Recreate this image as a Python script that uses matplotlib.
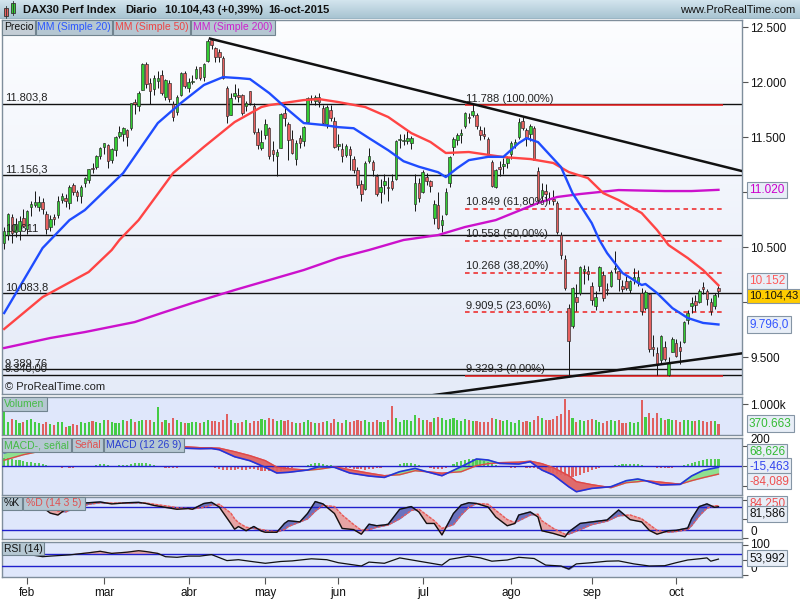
import numpy as np
import pandas as pd
import matplotlib
matplotlib.use("Agg")
import matplotlib.pyplot as plt
from matplotlib.colors import LinearSegmentedColormap
from matplotlib.patches import Rectangle

plt.rcParams["font.family"] = ["Liberation Sans", "DejaVu Sans"]

# ---------------- data ----------------
dates = pd.bdate_range("2015-01-23", "2015-10-16")
dates = dates.drop(pd.to_datetime(["2015-04-03", "2015-04-06", "2015-05-01", "2015-05-25"]))
month_labels = ["feb", "mar", "abr", "may", "jun", "jul", "ago", "sep", "oct"]

opens = [
    10540, 10610, 10770, 10640, 10650, 10760, 10660, 10860, 10880, 10860,
    10910, 10800, 10680, 10770, 10790, 10930, 10950, 10900, 11060, 11000,
    10960, 11080, 11110, 11220, 11230, 11330, 11410, 11430, 11290, 11380,
    11510, 11530, 11560, 11580, 11820, 11780, 11930, 12160, 11990, 11940,
    12010, 12060, 11860, 11990, 11800, 11730, 11880, 12080, 11950, 12000,
    12040, 12140, 12050, 12190, 12380, 12310, 12270, 12220, 11950, 11700,
    11870, 11880, 11880, 11780, 11920, 11780, 11550, 11400, 11520, 11580,
    11380, 11330, 11400, 11720, 11620, 11480, 11300, 11490, 11460, 11640,
    11850, 11830, 11860, 11760, 11620, 11750, 11650, 11420, 11390, 11340,
    11390, 11300, 11200, 11070, 11030, 11280, 11270, 11150, 11000, 11060,
    11050, 11100, 11120, 11470, 11460, 11460, 11450, 10890, 11080, 11000,
    11140, 11100, 10760, 10880, 10700, 10800, 11080, 11410, 11470, 11520,
    11600, 11680, 11700, 11700, 11560, 11530, 11480, 11270, 11050, 11230,
    11240, 11260, 11350, 11430, 11500, 11650, 11560, 11530, 11580, 11190,
    10960, 11010, 10950, 10940, 10900, 10610, 10390, 9950, 9780, 10050,
    10080, 10280, 10280, 10150, 9960, 10150, 10250, 10120, 10150, 10300,
    10280, 10150, 10190, 10110, 10200, 10170, 10080, 9950, 10070, 9590,
    9540, 9470, 9590, 9340, 9550, 9630, 9590, 9640, 9840, 9960,
    10010, 10000, 10140, 10100, 10000, 9960, 10130,
]
highs = [
    10680, 10810, 10800, 10760, 10780, 10850, 10840, 10920, 11010, 10960,
    10950, 10830, 10790, 10800, 10960, 10990, 10980, 11060, 11080, 11020,
    11060, 11140, 11210, 11260, 11340, 11410, 11450, 11440, 11400, 11510,
    11600, 11590, 11570, 11810, 11850, 11920, 12170, 12180, 12040, 12060,
    12100, 12110, 12030, 12020, 11830, 11880, 12090, 12100, 12040, 12060,
    12150, 12140, 12170, 12390, 12390, 12320, 12300, 12240, 11960, 11900,
    11980, 11950, 11890, 11830, 11920, 11810, 11580, 11560, 11660, 11590,
    11460, 11390, 11720, 11760, 11640, 11560, 11470, 11520, 11600, 11860,
    11880, 11880, 11900, 11790, 11790, 11790, 11680, 11530, 11450, 11440,
    11420, 11330, 11230, 11110, 11280, 11400, 11290, 11160, 11120, 11160,
    11140, 11160, 11470, 11530, 11530, 11560, 11510, 11160, 11130, 11200,
    11170, 11110, 10930, 11000, 10790, 11040, 11330, 11500, 11540, 11570,
    11730, 11720, 11800, 11720, 11600, 11590, 11500, 11290, 11210, 11280,
    11310, 11330, 11460, 11480, 11670, 11680, 11580, 11620, 11600, 11230,
    11080, 11070, 11000, 11020, 10920, 10640, 10430, 9980, 10140, 10160,
    10330, 10340, 10330, 10180, 10100, 10330, 10280, 10170, 10290, 10460,
    10290, 10200, 10240, 10200, 10310, 10290, 10130, 10110, 10080, 9700,
    9590, 9700, 9650, 9500, 9680, 9660, 9650, 9830, 9930, 10050,
    10060, 10120, 10180, 10120, 10040, 10080, 10160,
]
lows = [
    10480, 10560, 10540, 10590, 10560, 10680, 10620, 10780, 10860, 10830,
    10800, 10620, 10650, 10700, 10760, 10900, 10860, 10850, 10970, 10920,
    10900, 11050, 11080, 11170, 11210, 11300, 11350, 11220, 11260, 11330,
    11490, 11460, 11420, 11560, 11710, 11740, 11930, 11950, 11800, 11880,
    11950, 11880, 11840, 11820, 11650, 11700, 11870, 11950, 11910, 11980,
    12030, 12020, 12010, 12180, 12300, 12180, 12180, 12030, 11630, 11700,
    11850, 11820, 11700, 11740, 11790, 11530, 11390, 11380, 11480, 11300,
    11280, 11150, 11400, 11600, 11290, 11350, 11250, 11400, 11420, 11630,
    11810, 11790, 11770, 11610, 11580, 11650, 11400, 11380, 11270, 11320,
    11200, 11170, 11040, 10920, 11020, 11260, 11150, 10960, 10900, 10980,
    10920, 11020, 11110, 11400, 11430, 11440, 11390, 10830, 10910, 10990,
    11060, 11000, 10710, 10660, 10640, 10790, 11050, 11340, 11430, 11450,
    11580, 11630, 11680, 11570, 11470, 11480, 11340, 11050, 11040, 11150,
    11160, 11220, 11300, 11400, 11480, 11560, 11420, 11460, 11290, 10900,
    10910, 10930, 10890, 10880, 10620, 10390, 10110, 9338, 9760, 9920,
    10060, 10160, 10200, 9970, 9930, 10100, 10010, 10060, 10140, 10260,
    10100, 10090, 10110, 10080, 10160, 10150, 9880, 9930, 9550, 9510,
    9340, 9450, 9460, 9330, 9550, 9500, 9440, 9630, 9800, 9900,
    9920, 9990, 10070, 9970, 9880, 9940, 10050,
]
closes = [
    10649, 10798, 10628, 10710, 10738, 10694, 10828, 10891, 10911, 10905,
    10846, 10663, 10752, 10752, 10920, 10963, 10923, 11050, 11001, 10961,
    11050, 11130, 11205, 11210, 11327, 11401, 11443, 11280, 11390, 11504,
    11550, 11582, 11500, 11805, 11799, 11901, 12167, 11980, 11922, 12036,
    12039, 11896, 12016, 11843, 11683, 11868, 12086, 11967, 11998, 12001,
    12123, 12036, 12166, 12375, 12339, 12228, 12232, 12039, 11689, 11851,
    11896, 11863, 11722, 11811, 11811, 11547, 11432, 11454, 11622, 11327,
    11350, 11367, 11709, 11673, 11472, 11351, 11450, 11447, 11593, 11853,
    11848, 11864, 11815, 11625, 11771, 11673, 11413, 11436, 11328, 11420,
    11340, 11197, 11065, 10985, 11265, 11332, 11197, 10985, 11045, 11100,
    11041, 11040, 11460, 11471, 11472, 11492, 11492, 11083, 10945, 11180,
    11099, 11058, 10890, 10676, 10747, 10997, 11316, 11485, 11517, 11540,
    11716, 11673, 11735, 11604, 11520, 11512, 11347, 11056, 11198, 11211,
    11257, 11308, 11443, 11456, 11636, 11585, 11490, 11604, 11293, 10925,
    11014, 10985, 10940, 10915, 10636, 10432, 10124, 9648, 10128, 9998,
    10315, 10298, 10259, 10016, 10048, 10318, 10038, 10108, 10271, 10303,
    10210, 10123, 10131, 10188, 10227, 10229, 9916, 10093, 9571, 9570,
    9428, 9688, 9483, 9450, 9660, 9509, 9553, 9815, 9902, 9994,
    9970, 10096, 10119, 10032, 9915, 10064, 10104.43,
]
volumes = [  # thousands
    752, 430, 516, 484, 400, 408, 484, 516, 408, 376,
    344, 408, 344, 322, 430, 408, 269, 301, 344, 322,
    408, 376, 430, 450, 420, 400, 500, 470, 430, 380,
    400, 470, 440, 520, 430, 460, 500, 470, 480, 420,
    914, 430, 470, 400, 560, 470, 420, 380, 390, 430,
    410, 380, 430, 470, 440, 450, 430, 470, 680, 470,
    400, 380, 420, 470, 400, 460, 440, 520, 470, 550,
    520, 460, 480, 440, 470, 430, 400, 380, 420, 470,
    410, 380, 400, 420, 440, 400, 520, 430, 400, 470,
    420, 440, 470, 460, 480, 420, 410, 470, 430, 420,
    470, 935, 540, 430, 470, 500, 460, 645, 560, 470,
    480, 430, 540, 590, 560, 470, 520, 560, 480, 450,
    510, 480, 460, 440, 430, 410, 420, 560, 530, 480,
    450, 470, 420, 400, 490, 430, 460, 420, 470, 600,
    540, 500, 470, 520, 600, 677, 1150, 806, 560, 430,
    480, 460, 480, 520, 470, 420, 400, 440, 480, 450,
    480, 400, 380, 420, 400, 420, 1130, 591, 700, 560,
    700, 560, 480, 520, 470, 480, 420, 480, 470, 440,
    460, 470, 450, 420, 440, 450, 370.663,
]

# moving averages (bar index, value)
ma20_idx = [0, 2, 10, 17, 21, 31, 40, 46, 52, 57, 61, 64, 69, 74, 78, 83, 87, 91, 95, 100,
            104, 108, 113, 115, 118, 121, 126, 130, 134, 136, 139, 145, 148, 153, 155, 157,
            161, 166, 167, 170, 174, 178, 182, 186]
ma20_val = [9900, 10018, 10491, 10745, 10836, 11173, 11627, 11809, 11973, 12045, 12036, 12027,
            11900, 11745, 11627, 11610, 11590, 11580, 11490, 11380, 11280, 11230, 11180, 11136,
            11218, 11290, 11320, 11320, 11445, 11490, 11454, 11227, 10990, 10718, 10563, 10445,
            10264, 10155, 10164, 10082, 9945, 9855, 9810, 9796]
ma50_idx = [0, 10, 22, 28, 30, 35, 44, 52, 60, 67, 69, 78, 82, 87, 94, 100, 106, 111, 115,
            121, 130, 137, 143, 147, 152, 156, 160, 166, 170, 173, 178, 182, 186]
ma50_val = [9755, 10045, 10273, 10473, 10564, 10745, 11173, 11410, 11636, 11773, 11790, 11836,
            11845, 11818, 11773, 11682, 11536, 11455, 11355, 11364, 11318, 11300, 11264, 11182,
            11127, 10990, 10927, 10809, 10655, 10518, 10400, 10291, 10152]
ma200_idx = [0, 12, 21, 34, 41, 49, 60, 69, 78, 87, 95, 104, 113, 120, 128, 139, 144, 150,
             160, 172, 179, 186]
ma200_val = [9582, 9673, 9727, 9818, 9900, 9991, 10109, 10200, 10291, 10400, 10473, 10564,
             10609, 10682, 10745, 10900, 10955, 10982, 11018, 11009, 11009, 11020]

# drawn support / resistance levels
levels = [11803.8, 11156.3, 10611, 10083.8, 9389.76, 9340]
level_labels = ["11.803,8", "11.156,3", "10.611", "10.083,8", "9.389,76", "9.340,00"]
fib_vals = [11788, 10849, 10558, 10268, 9909.5, 9329.3]
fib_labels = ["11.788 (100,00%)", "10.849 (61,80%)", "10.558 (50,00%)",
              "10.268 (38,20%)", "9.909,5 (23,60%)", "9.329,3 (0,00%)"]
fib_span = [120, 187.2]
trend_down_x, trend_down_y = [53.6, 192.2], [12395, 11190]
trend_up_x, trend_up_y = [110.9, 192.2], [9150, 9534]

# MACD (12 26 9)
macd_idx = [0, 5, 10, 15, 20, 25, 30, 35, 40, 44, 47, 51, 54, 56, 60, 64, 68, 71, 74, 79, 82,
            86, 90, 95, 99, 103, 107, 110, 114, 119, 123, 126, 129, 134, 137, 140, 143, 147,
            149, 153, 158, 162, 165, 167, 171, 176, 179, 182, 186]
macd_val = [130, 160, 170, 170, 175, 195, 205, 220, 215, 190, 175, 170, 172, 160, 90, 50, -16,
            -73, -66, -43, -10, -16, -73, -103, -117, -60, -27, -60, -100, -10, 67, 57, 23, 17,
            40, -43, -93, -210, -260, -227, -210, -150, -133, -150, -193, -187, -103, -47,
            -15.463]
signal_val = [55, 110, 150, 180, 185, 180, 200, 195, 225, 212, 190, 180, 178, 175, 140, 100,
              50, -15, -30, -45, -35, -12, -40, -75, -100, -90, -50, -60, -75, -60, 0, 20, 30,
              35, 45, 20, -20, -100, -160, -190, -220, -170, -160, -150, -165, -185, -150,
              -120, -84.089]
macd_hist = [
    80, 75, 65, 60, 55, 45, 40, 35, 30, 25, 20, 5,
    -10, -15, -15, -20, -15, -20, -20, -15, -10, -10, -5,
    0, 5, 15, 15, 5, 0,
    0, 5, 5, 10,
    20, 25, 30, 28, 25, 20, 10,
    -10, -15, -20, -25, -20, -20, -15, -10,
    -5, -5, 0, -5, -10, -10, -10,
    -20, -30, -40, -40, -45, -40, -35, -40, -40, -35, -30,
    -40, -50, -55, -55, -50, -60, -55, -45, -35,
    -20, -15, -10, -5,
    5, 15, 25, 25, 20, 10, 5,
    -5, -10, -15, -20, -25, -30,
    -35, -35, -40, -35, -30, -25, -20, -15,
    -10, -5, 0,
    15, 25, 30, 25, 20,
    5, -5, -15, -25,
    -30, -35, -35, -25, -10,
    15, 35, 50, 60, 65, 65, 60, 55, 45, 35, 25,
    10, 0, -10, -15, -20, -20, -15, -15, -20, -20, -25,
    -35, -45, -55, -65, -75, -85, -95, -105, -110, -115, -105, -90, -75, -60,
    -45, -30, -20, -15, -10, -5,
    5, 10, 15, 20, 20, 20, 15, 10,
    -5, -10, -15, -20, -20, -25, -20, -20, -15, -10,
    5, 15, 25, 40, 50, 60, 65, 70, 70, 68.626,
]

# Stochastic %K / %D (14 3 5)
stoch_idx = [0, 3, 6, 9, 12, 14, 16, 19, 22, 25, 28, 32, 35, 37, 39, 42, 45, 48, 49, 52, 54,
             56, 59, 60, 61, 63, 65, 67, 68, 71, 73, 74, 77, 79, 81, 83, 86, 88, 91, 93, 95,
             97, 99, 100, 103, 106, 108, 110, 112, 114, 117, 119, 121, 123, 126, 128, 131,
             133, 134, 137, 139, 140, 143, 146, 147, 150, 153, 157, 160, 163, 166, 168, 170,
             173, 175, 178, 179, 181, 183, 185, 186]
stoch_k = [85, 80, 90, 88, 65, 60, 75, 90, 92, 94, 89, 92, 93, 90, 85, 80, 75, 77, 75, 90, 93,
           81, 38, 23, 30, 19, 30, 18, 15, 15, 38, 45, 42, 64, 95, 89, 64, 25, 22, 10, 36, 32,
           34, 36, 75, 82, 68, 38, 38, 8, 64, 86, 92, 90, 81, 55, 32, 38, 60, 68, 55, 19, 12,
           3, 16, 38, 42, 47, 73, 48, 42, 20, 10, 19, 20, 26, 50, 82, 89, 80, 81.586]
stoch_d = [80, 83, 86, 88, 78, 70, 68, 80, 88, 92, 91, 91, 92, 91, 88, 84, 79, 77, 76, 80, 86,
           88, 65, 50, 40, 28, 25, 22, 20, 16, 22, 30, 42, 50, 70, 85, 82, 60, 35, 20, 22, 28,
           32, 34, 50, 72, 75, 60, 45, 25, 35, 60, 80, 90, 88, 72, 48, 40, 45, 60, 62, 45, 25,
           10, 10, 22, 35, 44, 58, 60, 50, 35, 20, 15, 17, 22, 32, 58, 78, 84, 84.25]

# RSI (14)
rsi_idx = [0, 5, 10, 12, 17, 22, 25, 28, 32, 35, 37, 40, 42, 45, 48, 51, 54, 58, 61, 65, 68,
           72, 75, 80, 84, 87, 93, 95, 99, 103, 108, 114, 116, 121, 124, 127, 131, 134, 138,
           141, 145, 147, 149, 153, 157, 160, 164, 168, 172, 175, 178, 181, 183, 184, 186]
rsi_val = [70, 72, 62, 64, 68, 75, 80, 73, 77, 82, 79, 73, 62, 60, 64, 64, 69, 49, 52, 45, 40,
           46, 48, 55, 52, 42, 31, 44, 40, 58, 47, 34, 53, 64, 58, 47, 51, 60, 56, 34, 31, 21,
           38, 42, 47, 48, 38, 31, 32, 42, 51, 55, 58, 47, 53.992]

# ---------------- layout ----------------
W, H = 800, 600
XLIM = (-0.57, 192.13)
GREEN, RED = "#33cc33", "#e66060"

fig = plt.figure(figsize=(8, 6), dpi=100, facecolor="white")


def panel(top, bottom, left=2, right=742):
    return fig.add_axes([left / W, 1 - bottom / H, (right - left) / W, (bottom - top) / H])


def gradient(ax, top_color, bottom_color):
    cmap = LinearSegmentedColormap.from_list("g", [bottom_color, top_color])
    ax.imshow(np.linspace(0, 1, 64).reshape(-1, 1), cmap=cmap, origin="lower",
              extent=(0, 1, 0, 1), transform=ax.transAxes, aspect="auto", zorder=0)


def style(ax, ylim, ticks, labels, bg=None):
    ax.set_xlim(*XLIM)
    ax.set_ylim(*ylim)
    if bg:
        ax.set_facecolor(bg)
    ax.yaxis.tick_right()
    ax.set_yticks(ticks)
    ax.set_yticklabels(labels)
    ax.tick_params(axis="y", direction="out", length=4, width=0.8, color="#555555",
                   labelsize=8.5, labelcolor="#111111", pad=2)
    ax.tick_params(axis="x", bottom=False, labelbottom=False)
    for s in ax.spines.values():
        s.set_color("#7f8e9c")
        s.set_linewidth(1)


def tag(x0, x1, y0, y1, text, color, fc="#b5c7d2"):
    fig.patches.append(Rectangle((x0 / W, 1 - y1 / H), (x1 - x0) / W, (y1 - y0) / H,
                                 transform=fig.transFigure, facecolor=fc,
                                 edgecolor="#71848f", lw=0.8, zorder=10))
    fig.text((x0 + x1) / 2 / W, 1 - (y0 + y1) / 2 / H, text, color=color, ha="center",
             va="center", fontsize=7.5, zorder=11)


def value_box(ax, value, text, color, dy=0, fc="#e8eef7", size=8.5):
    y = H - ax.transData.transform((0, value))[1] + dy
    fig.text(749 / W, 1 - y / H, text, color=color, ha="left", va="center", fontsize=size,
             zorder=12, bbox=dict(boxstyle="square,pad=0.18", fc=fc, ec="#8595a5", lw=0.8))


def thousands(v):
    return f"{v:,.0f}".replace(",", ".")


x = np.arange(len(closes))
o, hi, lo, c = (np.array(a, dtype=float) for a in (opens, highs, lows, closes))
up = c >= o

# header bar
hdr = panel(0, 19, 0, 800)
gradient(hdr, "#d3e5ee", "#a6c2d0")
hdr.set_xlim(0, 800)
hdr.set_ylim(19, 0)
hdr.axis("off")
hdr.add_patch(Rectangle((4, 8), 4, 8, fc="#e66060", ec="#333333", lw=0.6))
hdr.add_patch(Rectangle((11, 3), 4, 10, fc="#33cc33", ec="#333333", lw=0.6))
hdr.plot([6, 6], [6, 18], color="#333333", lw=0.6)
hdr.plot([13, 13], [1, 15], color="#333333", lw=0.6)
for xx, txt in [(23, "DAX30 Perf Index"), (125, "Diario"), (165, "10.104,43 (+0,39%)"),
                (268, "16-oct-2015")]:
    hdr.text(xx, 10, txt, fontsize=8, fontweight="bold", va="center", color="#111111")
hdr.text(795, 10, "www.ProRealTime.com", fontsize=8, ha="right", va="center",
         color="#111111")
hdr.axhline(18.6, color="#6f8794", lw=1)

# ---------------- main price panel ----------------
ax = panel(20, 394)
gradient(ax, "#fcfdff", "#e5ebf8")
price_ticks = [9500, 10000, 10500, 11000, 11500, 12000, 12500]
style(ax, (9164, 12564), price_ticks,
      [thousands(v) if v not in (10000, 11000) else "" for v in price_ticks])

for v, lab in zip(levels, level_labels):
    ax.axhline(v, color="#111111", lw=1.0, zorder=2)
    ax.annotate(lab, (0.004, v), xycoords=("axes fraction", "data"), xytext=(0, 0.5),
                textcoords="offset points", fontsize=8, va="bottom", color="#222222",
                zorder=7)

for i, (v, lab) in enumerate(zip(fib_vals, fib_labels)):
    ls = "-" if i in (0, len(fib_vals) - 1) else (0, (3, 2.5))
    ax.hlines(v, *fib_span, colors="#ee2020", linestyles=ls, lw=1.1, zorder=2)
    ax.annotate(lab, (fib_span[0] + 0.3, v), xytext=(0, 1), textcoords="offset points",
                fontsize=8, va="bottom", color="#222222", zorder=7)

ax.vlines(x, lo, hi, color="#151515", lw=0.7, zorder=3)
ax.bar(x, np.maximum(np.abs(c - o), 8), bottom=np.minimum(o, c), width=0.66,
       color=np.where(up, GREEN, RED), edgecolor="#262626", linewidth=0.45, zorder=4)

ax.plot(ma200_idx, ma200_val, color="#cc11cc", lw=1.7, zorder=5)
ax.plot(ma50_idx, ma50_val, color="#ff4444", lw=1.7, zorder=5)
ax.plot(ma20_idx, ma20_val, color="#1f4cff", lw=1.7, zorder=5)

ax.plot(trend_down_x, trend_down_y, color="#111111", lw=1.8, zorder=6)
ax.plot(trend_up_x, trend_up_y, color="#111111", lw=1.8, zorder=6)

ax.text(0.004, 0.02, "\u00a9 ProRealTime.com", transform=ax.transAxes, fontsize=8,
        color="#222222", va="center", zorder=7)

tag(2, 35, 20, 35, "Precio", "#111111", fc="#c4ced6")
tag(36, 112, 20, 35, "MM (Simple 20)", "#2a55ff")
tag(113, 190, 20, 35, "MM (Simple 50)", "#ee4444")
tag(191, 275, 20, 35, "MM (Simple 200)", "#cc22cc")

value_box(ax, ma200_val[-1], "11.020", "#cc00cc")
value_box(ax, ma50_val[-1], "10.152", "#ff5a5a", dy=-4)
value_box(ax, closes[-1], "10.104,43", "#111111", dy=5, fc="#ffcc00", size=8)
value_box(ax, ma20_val[-1], "9.796,0", "#3355ff")

# ---------------- volume ----------------
axv = panel(397, 435)
style(axv, (0, 1226), [1000], ["1.000k"], bg="#dfe7fb")
axv.bar(x, volumes, width=0.55, color=np.where(up, "#44cc44", "#e06060"), zorder=3)
tag(2, 47, 397, 411, "Volumen", "#44bb44")
value_box(axv, volumes[-1], "370.663", "#33bb33")

# ---------------- MACD ----------------
axm = panel(438, 495)
style(axm, (-293, 277), [200, 0, -200], ["200", "", ""], bg="#dfe7fb")
axm.get_yticklabels()[0].set_va("bottom")
mi = np.array(macd_idx)
mv, sv = np.array(macd_val), np.array(signal_val)
axm.fill_between(mi, mv, sv, where=mv >= sv, interpolate=True, color="#8fe08f", zorder=2)
axm.fill_between(mi, mv, sv, where=mv < sv, interpolate=True, color="#e06b6b", zorder=2)
hist = np.array(macd_hist)
axm.bar(x, hist, width=0.55, color=np.where(hist >= 0, "#55cc55", "#e06060"), zorder=3)
axm.axhline(0, color="#2020cc", lw=1, zorder=4)
axm.plot(mi, sv, color="#e04848", lw=1.0, zorder=5)
axm.plot(mi, mv, color="#2233dd", lw=1.2, zorder=5)
tag(2, 71, 438, 452, "MACD-, se\u00f1al", "#44bb44")
tag(72, 103, 438, 452, "Se\u00f1al", "#e05050")
tag(104, 184, 438, 452, "MACD (12 26 9)", "#2a3fd0")
value_box(axm, macd_hist[-1], "68,626", "#33bb33", dy=-7)
value_box(axm, macd_val[-1], "-15,463", "#3344ee", dy=-1)
value_box(axm, signal_val[-1], "-84,089", "#ee5050", dy=7)

# ---------------- Stochastic ----------------
axs = panel(497, 539)
style(axs, (-2.6, 107), [0, 50, 100], ["0", "", ""], bg="#dfe7fb")
axs.get_yticklabels()[0].set_va("bottom")
si = np.array(stoch_idx)
kv, dv = np.array(stoch_k), np.array(stoch_d)
axs.fill_between(si, kv, dv, where=kv >= dv, interpolate=True, color="#6a72bf", zorder=2)
axs.fill_between(si, kv, dv, where=kv < dv, interpolate=True, color="#e7a4a4", zorder=2)
axs.axhline(80, color="#2020cc", lw=1, zorder=3)
axs.axhline(20, color="#2020cc", lw=1, zorder=3)
axs.plot(si, dv, color="#e85a5a", lw=1.0, ls=(0, (2, 1)), zorder=4)
axs.plot(si, kv, color="#111111", lw=1.0, zorder=5)
tag(2, 22, 497, 510, "%K", "#111111")
tag(23, 85, 497, 510, "%D (14 3 5)", "#e05050")
value_box(axs, stoch_d[-1], "84,250", "#ee5050", dy=-2)
value_box(axs, stoch_k[-1], "81,586", "#111111", dy=7)

# ---------------- RSI ----------------
axr = panel(542, 577)
style(axr, (-5.7, 111), [0, 50, 100], ["0", "", "100"], bg="#dfe7fb")
rl = axr.get_yticklabels()
rl[0].set_va("bottom")
rl[2].set_va("center")
ri, rv = np.array(rsi_idx), np.array(rsi_val)
axr.fill_between(ri, rv, 70, where=rv > 70, interpolate=True, color="#e7a4a4", zorder=2)
axr.fill_between(ri, rv, 30, where=rv < 30, interpolate=True, color="#6a72bf", zorder=2)
axr.axhline(70, color="#2020cc", lw=1, zorder=3)
axr.axhline(30, color="#2020cc", lw=1, zorder=3)
axr.plot(ri, rv, color="#111111", lw=0.9, zorder=4)
tag(2, 44, 542, 555, "RSI (14)", "#111111")
value_box(axr, rsi_val[-1], "53,992", "#111111", dy=-1)

month_pos = [i for i in range(1, len(dates)) if dates[i].month != dates[i - 1].month]
axr.set_xticks(month_pos)
axr.set_xticklabels(month_labels)
axr.tick_params(axis="x", bottom=True, labelbottom=True, direction="out", length=5,
                width=0.8, color="#555555", labelsize=8.5, labelcolor="#111111", pad=2)

fig.savefig("out.png", dpi=100, facecolor=fig.get_facecolor())
